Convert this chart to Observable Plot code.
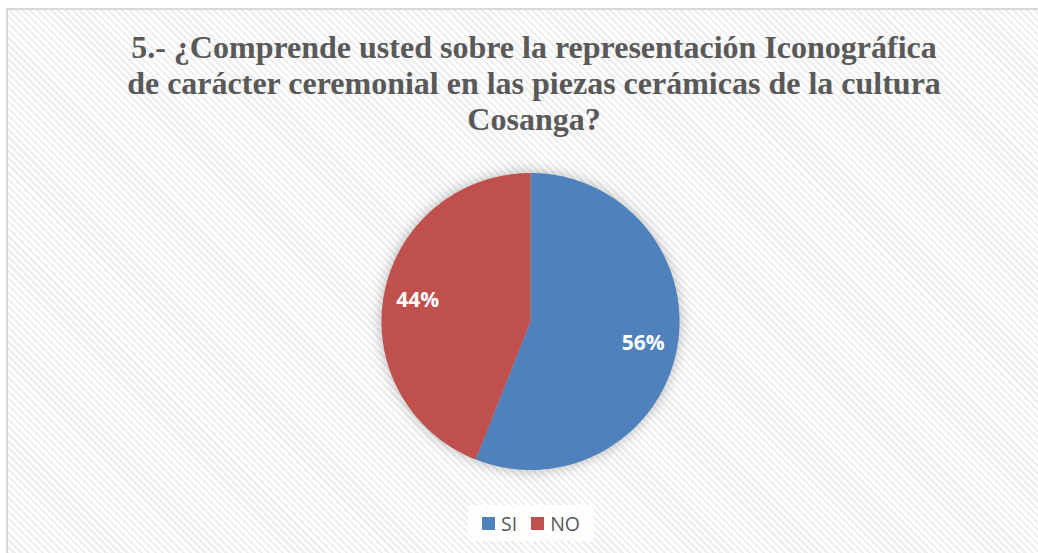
<!DOCTYPE html>
<html>
<head>
<meta charset="utf-8">
<script src="https://cdn.jsdelivr.net/npm/d3@7"></script>
<script src="https://cdn.jsdelivr.net/npm/@observablehq/plot@0.6"></script>
<style>
  html, body { margin: 0; padding: 0; background: #fff; }
  #wrap { position: relative; width: 1038px; height: 553px; overflow: hidden; background: #fff; }
  #box {
    position: absolute; left: 6px; top: 8px; width: 1040px; height: 560px;
    border: 2px solid #d9d9d9; box-sizing: border-box;
    background: repeating-linear-gradient(45deg, #ffffff 0px, #ffffff 2.6px, #efefef 2.6px, #efefef 5px);
  }
  #title {
    position: absolute; left: 0; width: 1068px; top: 29px; text-align: center;
    font-family: "Liberation Serif", "Times New Roman", serif; font-weight: bold;
    font-size: 32px; line-height: 36px; color: #595959;
  }
  #chart { position: absolute; left: 0; top: 0; }
  #legend {
    position: absolute; top: 505px; left: 468px; height: 36px; padding: 0 14px;
    display: flex; align-items: center; gap: 14px; background: rgba(255,255,255,0.85);
    font-family: "Open Sans", sans-serif; font-size: 19.5px; color: #595959;
  }
  .item { display: flex; align-items: center; gap: 6px; }
  .sw { width: 13px; height: 13px; display: inline-block; }
  .pie-shadow { filter: drop-shadow(0 0 7px rgba(0,0,0,0.28)); }
</style>
</head>
<body>
<div id="wrap">
  <div id="box"></div>
  <div id="title"></div>
  <div id="chart"></div>
  <div id="legend"></div>
</div>
<script>
const titleLines = [
  "5.- ¿Comprende usted sobre la representación Iconográfica",
  "de carácter ceremonial en las piezas cerámicas de la cultura",
  "Cosanga?"
];
const categories = ["SI", "NO"];
const values = [56, 44];
const colors = ["#4F81BD", "#C0504D"];
const labels = ["56%", "44%"];

document.getElementById("title").innerHTML = titleLines.join("<br>");

const data = categories.map((c, i) => ({cat: c, value: values[i], label: labels[i]}));
const arcs = d3.pie().sort(null).value(d => d.value)(data);

const pts = [];
arcs.forEach(a => {
  pts.push({cat: a.data.cat, x: 0, y: 0});
  const n = 120;
  for (let k = 0; k <= n; k++) {
    const t = a.startAngle + (a.endAngle - a.startAngle) * k / n;
    pts.push({cat: a.data.cat, x: Math.sin(t), y: Math.cos(t)});
  }
});
const lab = arcs.map(a => {
  const m = (a.startAngle + a.endAngle) / 2;
  return {label: a.data.label, x: 0.77 * Math.sin(m), y: 0.77 * Math.cos(m)};
});

const plot = Plot.plot({
  width: 1038,
  height: 553,
  marginLeft: 381,
  marginRight: 359,
  marginTop: 172.5,
  marginBottom: 83.5,
  x: {domain: [-1, 1], axis: null},
  y: {domain: [-1, 1], axis: null},
  color: {domain: categories, range: colors},
  style: {background: "transparent", overflow: "visible"},
  marks: [
    Plot.line(pts, {x: "x", y: "y", z: "cat", fill: "cat", stroke: null, curve: "linear-closed", className: "pie-shadow"}),
    Plot.text(lab, {x: "x", y: "y", text: "label", fill: "white", fontSize: 21, fontWeight: "bold", fontFamily: "Open Sans"})
  ]
});
document.getElementById("chart").appendChild(plot);

const legend = document.getElementById("legend");
categories.forEach((c, i) => {
  const it = document.createElement("span");
  it.className = "item";
  it.innerHTML = `<span class="sw" style="background:${colors[i]}"></span><span>${c}</span>`;
  legend.appendChild(it);
});
</script>
</body>
</html>
